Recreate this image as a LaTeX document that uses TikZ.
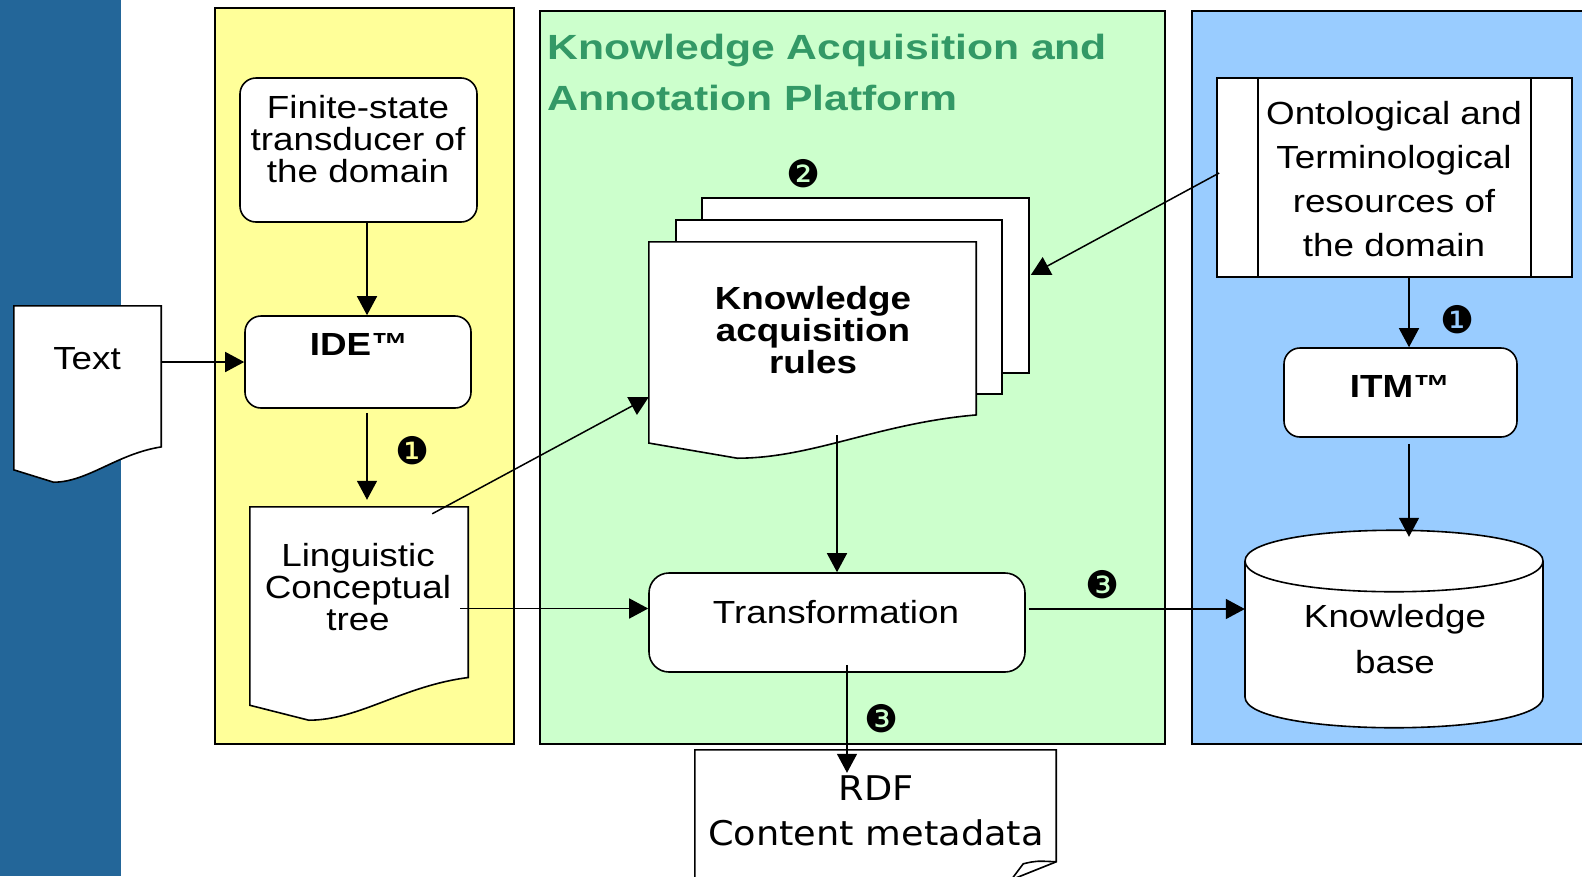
\documentclass[tikz,border=0pt]{standalone}
\usepackage{fontspec}
\setmainfont{Liberation Sans}[FakeStretch=1.15]
\newfontfamily\titlefont{Liberation Sans}[FakeStretch=1.22]
\newfontfamily\dingfont{DejaVu Sans}
\newfontfamily\rdffont{DejaVu Sans}[FakeStretch=1.08]
\usetikzlibrary{arrows.meta,calc}

\definecolor{stripblue}{HTML}{236699}
\definecolor{panelyellow}{HTML}{FFFF99}
\definecolor{panelgreen}{HTML}{CCFFCC}
\definecolor{panelblue}{HTML}{99CCFF}
\definecolor{titlegreen}{HTML}{339966}

\tikzset{
  panel/.style={draw=black, line width=1.5pt},
  shapebox/.style={draw, fill=white, line width=1.6pt, inner sep=0pt},
  roundbox/.style={shapebox, rounded corners=16pt},
  ghost/.style={inner sep=0pt},
  lbl/.style={anchor=north, inner sep=0pt, align=center, font=\fontsize{32}{32}\selectfont},
  boldlbl/.style={lbl, font=\bfseries\fontsize{32}{32}\selectfont},
  arr/.style={line width=1.5pt, -{Triangle[length=19pt,width=20pt]}},
  numlbl/.style={inner sep=0pt, font=\dingfont\fontsize{38}{38}\selectfont},
}

% document outline (wavy bottom) over a ghost node
\newcommand\docshape[1]{%
  \coordinate (#1-r) at ($(#1.north east)!0.8!(#1.south east)$);
  \coordinate (#1-l) at ($(#1.north west)!0.93!(#1.south west)$);
  \coordinate (#1-m) at ($(#1.south west)!0.27!(#1.south east)$);
  \coordinate (#1-c1) at ($(#1.south west)!0.5!(#1.south east)$);
  \coordinate (#1-c2) at ($(#1-r)!0.3!(#1-l)$);
  \filldraw[shapebox] (#1.north west) -- (#1.north east) -- (#1-r)
    .. controls (#1-c2) and (#1-c1) .. (#1-m) -- (#1-l) -- cycle;
}

\begin{document}
\begin{tikzpicture}[x=1pt,y=-1pt]
\useasboundingbox (0,0) rectangle (1582,876);
\clip (0,0) rectangle (1582,876);

% panels
\fill[stripblue] (0,0) rectangle (121,876);
\filldraw[panel, fill=panelyellow] (215,8) rectangle (514,744);
\filldraw[panel, fill=panelgreen] (540,11) rectangle (1165,744);
\filldraw[panel, fill=panelblue] (1192,11) rectangle (1600,744);

\node[lbl, anchor=north west, align=left, text=titlegreen, font=\titlefont\bfseries\fontsize{35}{51}\selectfont] (title) at (547,34) {Knowledge Acquisition and\\Annotation Platform};

% left column
\node[ghost, minimum width=147pt, minimum height=176pt] (txt) at (87.5,394) {};
\docshape{txt}
\node[lbl] (txt-t) at (87,347) {Text};

\node[roundbox, minimum width=237pt, minimum height=144pt] (fst) at (358.5,150) {};
\node[lbl] (fst-t) at (358,95) {Finite-state\\transducer of\\the domain};

\node[roundbox, minimum width=226pt, minimum height=92pt] (ide) at (358,362) {};
\node[boldlbl] (ide-t) at (359,333) {IDE™};

\node[ghost, minimum width=218pt, minimum height=213pt] (ling) at (359,613.5) {};
\docshape{ling}
\node[lbl] (ling-t) at (358,543) {Linguistic\\Conceptual\\tree};

% platform
\node[shapebox, minimum width=327pt, minimum height=175pt] (karback) at (865.5,285.5) {};
\node[shapebox, minimum width=326pt, minimum height=174pt] (karmid) at (839,307) {};
\node[ghost, minimum width=327pt, minimum height=216pt] (kar) at (812.5,350) {};
\docshape{kar}
\node[boldlbl] (kar-t) at (813,286) {Knowledge\\acquisition\\rules};

\node[roundbox, rounded corners=20pt, minimum width=376pt, minimum height=99pt] (trans) at (837,622.5) {};
\node[lbl] (trans-t) at (836,600) {Transformation};

\node[ghost, minimum width=361pt, minimum height=150pt] (rdf) at (875.5,825) {};
\filldraw[shapebox] (rdf.south west) -- (rdf.north west) -- (rdf.north east)
  -- ($(rdf.north east)+(0,112)$) -- ($(rdf.north east)+(-45,130)$) -- cycle;
\draw[line width=1.6pt] ($(rdf.north east)+(0,112)$) .. controls ($(rdf.north east)+(-20,111)$) .. ($(rdf.north east)+(-33,114)$) -- ($(rdf.north east)+(-45,130)$);
\node[lbl, font=\rdffont\fontsize{34}{45}\selectfont] (rdf-t) at (876,776) {RDF\\Content metadata};

% resources
\node[shapebox, minimum width=355pt, minimum height=199pt] (ont) at (1394.5,177.5) {};
\draw[line width=1.6pt] ($(ont.north west)+(42,0)$) -- ($(ont.south west)+(42,0)$);
\draw[line width=1.6pt] ($(ont.north east)+(-42,0)$) -- ($(ont.south east)+(-42,0)$);
\node[lbl, font=\fontsize{32}{44}\selectfont] (ont-t) at (1394,101) {Ontological and\\Terminological\\resources of\\the domain};

\node[roundbox, minimum width=233pt, minimum height=89pt] (itm) at (1400.5,392.5) {};
\node[boldlbl] (itm-t) at (1400,375) {ITM™};

\node[ghost, minimum width=298pt, minimum height=198pt] (kb) at (1394,629) {};
\filldraw[shapebox] (1245,561) -- (1245,697) .. controls (1245,738) and (1543,738) .. (1543,697)
  -- (1543,561) .. controls (1543,520) and (1245,520) .. (1245,561) -- cycle;
\draw[line width=1.6pt] (1245,561) .. controls (1245,602) and (1543,602) .. (1543,561);
\node[lbl, font=\fontsize{32}{46}\selectfont] (kb-t) at (1395,604) {Knowledge\\base};

% step numbers
\node[numlbl] (n1a) at (413,451) {❶};
\node[numlbl] (n2) at (804,174) {❷};
\node[numlbl] (n1b) at (1458,320) {❶};
\node[numlbl] (n3a) at (1103,585) {❸};
\node[numlbl] (n3b) at (882,719) {❸};

% flows
\draw[arr] ($(fst.south)+(8.5,0)$) -- ($(ide.north)+(9,0)$);
\draw[arr] (txt.east |- ide.west) -- (ide.west);
\draw[arr] ($(ide.south)+(9,4)$) -- ($(ide.south |- ling.north)+(9,-7)$);
\draw[arr] ($(ling.north east)+(-36,7)$) -- ($(kar.west)+(0,47)$);
\draw[arr] ($(ling.east |- trans.west)+(-8,-14)$) -- ($(trans.west)+(0,-14)$);
\draw[arr] ($(trans.north |- kar.south)+(0,-23)$) -- (trans.north);
\draw[arr] ($(trans.south)+(10,-8)$) -- ($(trans.south |- rdf.north)+(10,23)$);
\draw[arr] ($(trans.east)+(3,-13.5)$) -- ($(kb.west |- trans.east)+(0,-13.5)$);
\draw[arr] ($(ont.west)+(3,-4.5)$) -- ($(karback.east)+(1,-10.5)$);
\draw[arr] ($(ont.south)+(14.5,0)$) -- ($(itm.north)+(8.5,0)$);
\draw[arr] ($(itm.south)+(8.5,6)$) -- ($(itm.south |- kb.north)+(8.5,7)$);
\end{tikzpicture}
\end{document}
